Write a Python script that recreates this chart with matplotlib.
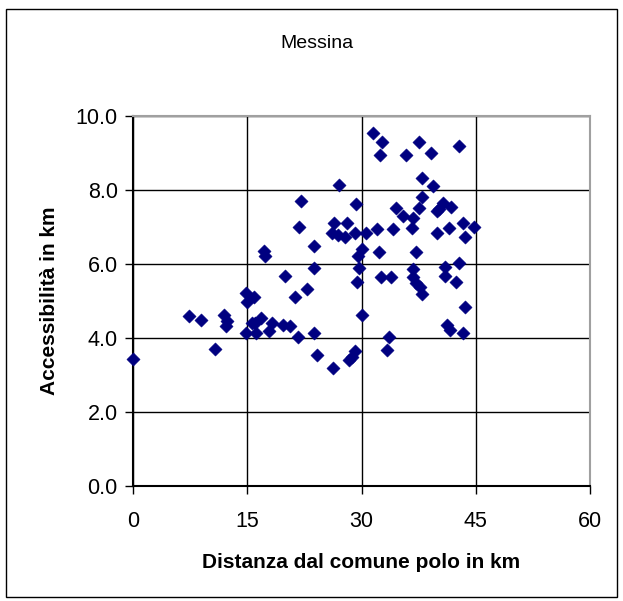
import matplotlib
matplotlib.use("Agg")
import matplotlib.pyplot as plt
from matplotlib.patches import Rectangle

plt.rcParams['font.family'] = ['Liberation Sans', 'DejaVu Sans']

title = "Messina"
x_label = "Distanza dal comune polo in km"
y_label = "Accessibilità in km"
x_ticks = [0, 15, 30, 45, 60]
y_ticks = [0.0, 2.0, 4.0, 6.0, 8.0, 10.0]

distanza = [0.0, 7.3, 8.9, 10.8, 11.9, 12.3, 12.2, 14.8, 15.9, 15.0, 14.9, 15.6,
            16.2, 16.0, 16.8, 17.8, 18.3, 19.7, 20.6, 17.2, 17.3, 20.0, 21.3, 22.9,
            21.6, 23.7, 24.2, 26.3, 28.3, 28.7, 29.2, 23.7, 23.7, 21.8, 22.0, 27.1,
            26.4, 28.1, 26.1, 26.9, 27.8, 29.1, 30.6, 32.1, 29.3, 30.1, 29.5, 29.7,
            29.4, 30.0, 31.5, 32.7, 32.4, 32.3, 32.5, 33.9, 33.6, 33.4, 35.8, 37.6,
            39.1, 42.8, 37.9, 39.4, 37.9, 34.5, 37.6, 35.5, 36.8, 36.6, 34.2, 40.7,
            41.8, 40.2, 39.9, 41.5, 39.9, 43.3, 44.8, 43.6, 37.1, 36.8, 36.8, 37.2,
            37.7, 37.9, 40.9, 40.9, 42.4, 42.8, 43.6, 41.2, 41.6, 43.3]
accessibilita = [3.42, 4.60, 4.50, 3.69, 4.62, 4.45, 4.32, 5.21, 5.10, 4.98, 4.14, 4.40,
                 4.13, 4.40, 4.53, 4.20, 4.40, 4.35, 4.33, 6.35, 6.22, 5.68, 5.10, 5.32,
                 4.02, 4.13, 3.53, 3.20, 3.41, 3.50, 3.64, 5.90, 6.50, 6.99, 7.69, 8.13,
                 7.12, 7.10, 6.83, 6.79, 6.72, 6.83, 6.83, 6.95, 7.63, 6.40, 6.22, 5.90,
                 5.52, 4.61, 9.53, 9.30, 8.94, 6.33, 5.64, 5.64, 4.04, 3.68, 8.94, 9.30,
                 8.99, 9.20, 8.33, 8.12, 7.81, 7.52, 7.52, 7.31, 7.23, 6.97, 6.94, 7.66,
                 7.53, 7.50, 7.42, 6.98, 6.83, 7.10, 6.99, 6.72, 6.33, 5.86, 5.66, 5.48,
                 5.39, 5.19, 5.91, 5.68, 5.52, 6.02, 4.83, 4.35, 4.22, 4.13]

W, H = 623, 601
fig = plt.figure(figsize=(W / 100, H / 100), dpi=100)
fig.patch.set_facecolor('white')

# outer chart border
fig.patches.append(Rectangle((6 / W, 1 - 597 / H), (617 - 6) / W, (597 - 9) / H,
                             transform=fig.transFigure, fill=False,
                             edgecolor='black', linewidth=1.0))

left, right, top, bottom = 133, 590, 116, 486
ax = fig.add_axes([left / W, 1 - bottom / H, (right - left) / W, (bottom - top) / H])

ax.scatter(distanza, accessibilita, marker='D', s=46, color='#000080',
           edgecolors='#000080', linewidths=0.3, zorder=3, clip_on=False)

ax.set_xlim(0, 60)
ax.set_ylim(0, 10)
ax.set_xticks(x_ticks)
ax.set_xticklabels([str(v) for v in x_ticks])
ax.set_yticks(y_ticks)
ax.set_yticklabels([f"{v:.1f}" for v in y_ticks])

ax.grid(True, color='black', linewidth=1.0, zorder=1)
ax.set_axisbelow(True)

for side in ['top', 'right']:
    ax.spines[side].set_color('#a0a0a0')
    ax.spines[side].set_linewidth(1.5)
for side in ['left', 'bottom']:
    ax.spines[side].set_color('black')
    ax.spines[side].set_linewidth(1.5)

ax.tick_params(axis='both', direction='out', length=6, width=1.0, color='black',
               labelsize=15.5)
ax.tick_params(axis='x', pad=12)
ax.tick_params(axis='y', pad=5)

ax.set_xlabel(x_label, fontsize=15, fontweight='bold', labelpad=15)
ax.set_ylabel(y_label, fontsize=15, fontweight='bold', labelpad=12)

fig.text(317 / W, 1 - 43 / H, title, ha='center', va='center', fontsize=14)

fig.savefig('out.png', dpi=100)
